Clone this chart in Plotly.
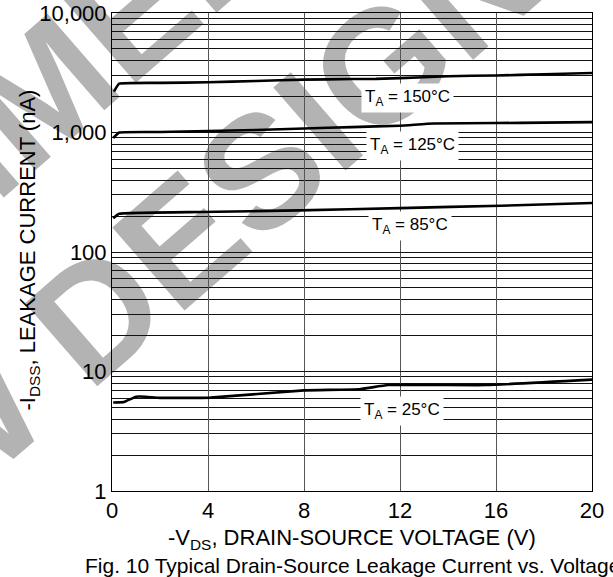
import math
import plotly.graph_objects as go

# ---- data ----
v_150 = [0.08, 0.3, 2, 4, 6, 8, 10, 11, 13, 14, 16, 18, 20]
i_150 = [2200, 2560, 2600, 2630, 2700, 2770, 2800, 2810, 2900, 2960, 3000, 3070, 3150]

v_125 = [0.05, 0.3, 2, 4, 6, 8, 10, 12, 13.4, 16, 18, 20]
i_125 = [900, 1000, 1010, 1030, 1050, 1080, 1110, 1140, 1190, 1200, 1210, 1222]

v_85 = [0.05, 0.3, 3.7, 7.8, 12, 16.2, 20]
i_85 = [192, 209, 216, 223, 233, 244, 257]

v_25 = [0.05, 0.5, 1.0, 1.4, 2.0, 4.1, 8.0, 10.3, 11.5, 15.6, 20]
i_25 = [5.5, 5.55, 6.15, 6.15, 6.02, 6.05, 6.95, 7.1, 7.7, 7.7, 8.55]

x_ticks = [0, 4, 8, 12, 16, 20]
y_ticks = [1, 10, 100, 1000, 10000]
y_ticktext = ["1", "10", "100", "1,000", "10,000"]
y_minor = [m * d for d in (1, 10, 100, 1000) for m in range(2, 10)]

labels = ["T<sub>A</sub> = 150°C", "T<sub>A</sub> = 125°C", "T<sub>A</sub> = 85°C", "T<sub>A</sub> = 25°C"]
label_x = [12.3, 12.5, 12.4, 12.1]
label_y = [1950, 774, 166, 4.65]

FONT = "Liberation Sans, Arial, sans-serif"

fig = go.Figure()
for vx, iy in [(v_150, i_150), (v_125, i_125), (v_85, i_85), (v_25, i_25)]:
    fig.add_trace(go.Scatter(x=vx, y=iy, mode="lines",
                             line=dict(color="black", width=2.6, shape="spline", smoothing=0.3),
                             showlegend=False, hoverinfo="skip"))

for t, lx, ly in zip(labels, label_x, label_y):
    fig.add_annotation(x=lx, y=math.log10(ly), xref="x", yref="y", text=t, showarrow=False,
                       font=dict(family=FONT, size=17, color="black", weight="normal"),
                       bgcolor="white", borderpad=3)

# watermark (drawn between grid and traces)
WM = dict(family=FONT, size=160, color="#b3b3b3", weight="bold")
for txt, cx, cy in [("NEW DESIGN", 0.01, 0.45), ("NOT RECOMMENDED FOR", -0.196, 0.835)]:
    fig.add_shape(type="rect", xref="paper", yref="paper",
                  x0=cx - 0.01, x1=cx + 0.01, y0=cy - 0.01, y1=cy + 0.01,
                  line=dict(width=0), fillcolor="rgba(0,0,0,0)", layer="between",
                  label=dict(text=txt, textangle=-41, textposition="middle center", font=WM))

# axis titles and caption
fig.add_annotation(xref="paper", yref="paper", x=0.5, y=-0.1, yanchor="middle",
                   text="-V<sub>DS</sub>, DRAIN-SOURCE VOLTAGE (V)", showarrow=False,
                   font=dict(family=FONT, size=22, color="black", weight="normal"))
fig.add_annotation(xref="paper", yref="paper", x=0.5, y=-0.155, yanchor="middle",
                   text="Fig. 10 Typical Drain-Source Leakage Current vs. Voltage", showarrow=False,
                   font=dict(family=FONT, size=21, color="black", weight="normal"))
fig.add_annotation(xref="paper", yref="paper", x=-0.173, y=0.505, xanchor="center", yanchor="middle",
                   text="-I<sub>DSS</sub>, LEAKAGE CURRENT (nA)", showarrow=False, textangle=-90,
                   font=dict(family=FONT, size=22, color="black", weight="normal"))

TICKFONT = dict(family=FONT, size=22, color="black", weight="normal")
fig.update_xaxes(range=[0, 20], tickvals=x_ticks, showgrid=True, gridcolor="#555555", gridwidth=1.4,
                 showline=True, linecolor="black", linewidth=1, mirror=True, ticks="",
                 zeroline=False, tickfont=TICKFONT, automargin=False)
fig.update_yaxes(type="log", range=[0, 4], tickvals=y_ticks, ticktext=y_ticktext,
                 showgrid=True, gridcolor="#111111", gridwidth=1,
                 minor=dict(tickvals=y_minor, showgrid=True, gridcolor="#111111", gridwidth=1, ticks=""),
                 showline=True, linecolor="black", linewidth=1, mirror=True, ticks="",
                 zeroline=False, tickfont=TICKFONT, automargin=False)

fig.update_layout(width=613, height=577, margin=dict(l=112, r=21, t=13, b=85.5, autoexpand=False),
                  paper_bgcolor="white", plot_bgcolor="white", showlegend=False)

fig.write_html("out.html")
